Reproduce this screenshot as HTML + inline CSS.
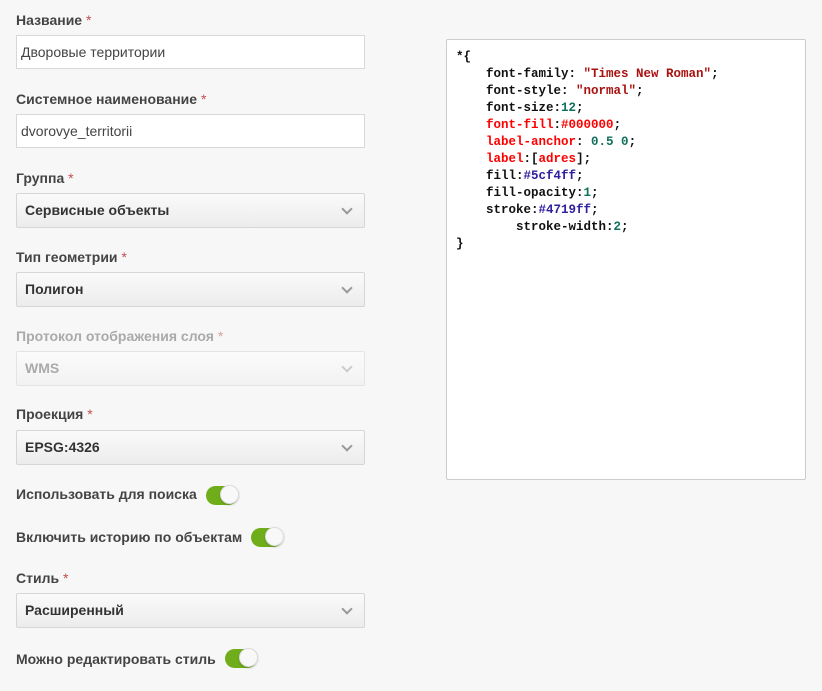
<!DOCTYPE html>
<html><head><meta charset="utf-8"><style>
body{margin:0;width:822px;height:691px;background:#f7f7f7;font-family:"Liberation Sans",sans-serif;position:relative;overflow:hidden}
.l{position:absolute;left:16px;font-size:14px;font-weight:bold;color:#444;line-height:16px}
.l .s{color:#c0504d;font-weight:normal}
.l.d{color:#aaa}.l.d .s{color:#d8a0a0}
.i{position:absolute;left:16px;width:349px;height:34px;border:1px solid #d8d8d8;background:#fff;box-sizing:border-box;font-size:14px;color:#444;padding-left:4px;line-height:32px}
.sel{position:absolute;left:16px;width:349px;height:35px;border:1px solid #d6d6d6;box-sizing:border-box;border-radius:2px;background:linear-gradient(#fafafa,#ececec);font-size:14px;font-weight:bold;color:#333;padding-left:8px;line-height:33px}
.sel.d{color:#aaa;background:linear-gradient(#fbfbfb,#f2f2f2);border-color:#e4e4e4}
.sel:after{content:"";position:absolute;right:13px;top:11px;width:6px;height:6px;border-right:2px solid #999;border-bottom:2px solid #999;transform:rotate(45deg)}
.sel.d:after{border-color:#ccc}
.t{position:absolute;width:32px;height:19px;border-radius:10px;background:#6fae1a}
.t:after{content:"";position:absolute;right:-1px;top:-1px;width:19px;height:19px;border-radius:50%;background:#f8f8f8;border:1px solid #ddd;box-sizing:border-box;box-shadow:0 1px 2px rgba(0,0,0,.2)}
.code{position:absolute;left:446px;top:39px;width:360px;height:441px;border:1px solid #ccc;box-sizing:border-box;background:#fff;border-radius:2px}
pre{margin:0;position:absolute;left:9px;top:9px;font-family:"Liberation Mono",monospace;font-weight:bold;font-size:12.5px;line-height:17px;color:#111}
.r{color:#a11}.rr{color:#f00}.g{color:#11705a}.b{color:#3020a0}
</style></head><body>
<div class="l" style="top:12px">Название <span class="s">*</span></div>
<div class="i" style="top:35px">Дворовые территории</div>
<div class="l" style="top:91px">Системное наименование <span class="s">*</span></div>
<div class="i" style="top:114px">dvorovye_territorii</div>
<div class="l" style="top:170px">Группа <span class="s">*</span></div>
<div class="sel" style="top:193px">Сервисные объекты</div>
<div class="l" style="top:249px">Тип геометрии <span class="s">*</span></div>
<div class="sel" style="top:272px">Полигон</div>
<div class="l d" style="top:328px">Протокол отображения слоя <span class="s">*</span></div>
<div class="sel d" style="top:351px">WMS</div>
<div class="l" style="top:406px">Проекция <span class="s">*</span></div>
<div class="sel" style="top:430px">EPSG:4326</div>
<div class="l" style="top:486px">Использовать для поиска</div>
<div class="t" style="left:206px;top:486px"></div>
<div class="l" style="top:529px">Включить историю по объектам</div>
<div class="t" style="left:251px;top:528px"></div>
<div class="l" style="top:570px">Стиль <span class="s">*</span></div>
<div class="sel" style="top:593px">Расширенный</div>
<div class="l" style="top:651px">Можно редактировать стиль</div>
<div class="t" style="left:225px;top:649px"></div>
<div class="code"><pre>*{
    font-family: <span class="r">"Times New Roman"</span>;
    font-style: <span class="r">"normal"</span>;
    font-size:<span class="g">12</span>;
    <span class="rr">font-fill</span>:<span class="rr">#000000</span>;
    <span class="rr">label-anchor</span>: <span class="g">0.5 0</span>;
    <span class="rr">label</span>:[<span class="rr">adres</span>];
    fill:<span class="b">#5cf4ff</span>;
    fill-opacity:<span class="g">1</span>;
    stroke:<span class="b">#4719ff</span>;
        stroke-width:<span class="g">2</span>;
}</pre></div>
</body></html>
